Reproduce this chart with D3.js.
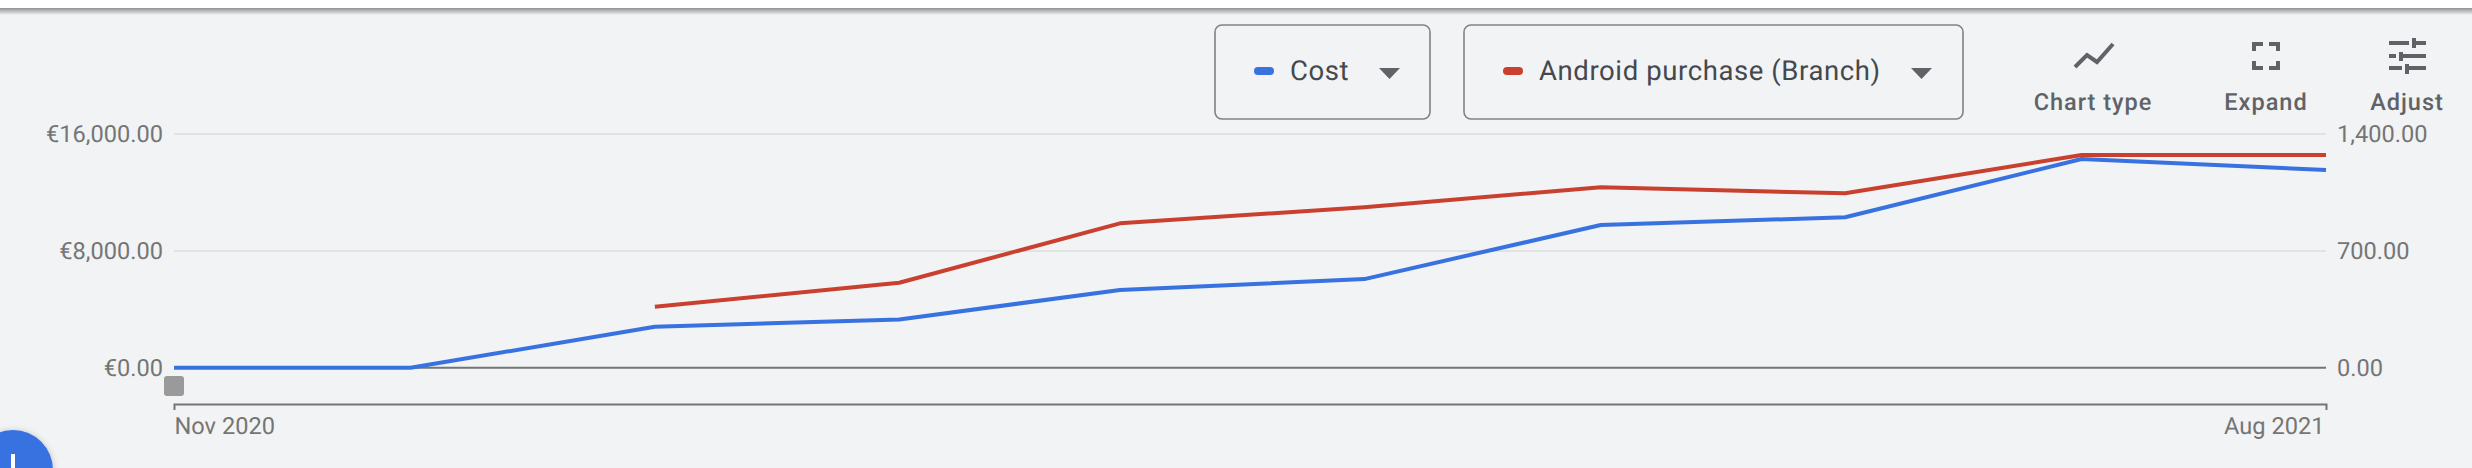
<!DOCTYPE html>
<html>
<head>
<meta charset="utf-8">
<script src="https://cdn.jsdelivr.net/npm/d3@7"></script>
<style>
html,body{margin:0;padding:0;background:#f1f3f4;overflow:hidden}
svg{display:block}
text{font-family:Roboto,sans-serif;text-rendering:geometricPrecision}
.tick line{display:none}
</style>
</head>
<body>
<svg id="chart" width="2472" height="468"></svg>
<script>
const months = ["2020-11-01","2020-12-01","2021-01-01","2021-02-01","2021-03-01","2021-04-01","2021-05-01","2021-06-01","2021-07-01","2021-08-01"];
const costValues = [0,0,2810,3310,5320,6070,9770,10300,14290,13540];
const purchaseValues = [null,null,365,509,865,961,1081,1045,1274,1274];
const leftTicks = [0,8000,16000];
const rightTicks = [0,700,1400];
const leftTickLabels = ["€0.00","€8,000.00","€16,000.00"];
const rightTickLabels = ["0.00","700.00","1,400.00"];
const xTickLabels = ["Nov 2020","Aug 2021"];
const legendLabels = ["Cost","Android purchase (Branch)"];
const toolLabels = ["Chart type","Expand","Adjust"];

const BLUE="#3871e0", RED="#c9402f", GREY="#757575", GRID="#e0e2e3", DARK="#5f6368";
const svg=d3.select("#chart");
const defs=svg.append("defs");
const grad=defs.append("linearGradient").attr("id","topShadow").attr("x1",0).attr("x2",0).attr("y1",0).attr("y2",1);
grad.append("stop").attr("offset",0).attr("stop-color","#8f9193");
grad.append("stop").attr("offset",1).attr("stop-color","#f1f3f4");
const blur=defs.append("filter").attr("id","fabShadow").attr("x","-30%").attr("y","-30%").attr("width","160%").attr("height","160%");
blur.append("feDropShadow").attr("dx",0).attr("dy",1).attr("stdDeviation",3).attr("flood-color","#000").attr("flood-opacity",0.25);

// page chrome
svg.append("rect").attr("width",2472).attr("height",468).attr("fill","#f1f3f4");
svg.append("rect").attr("width",2472).attr("height",8).attr("fill","#ffffff");
svg.append("rect").attr("y",8).attr("width",2472).attr("height",7).attr("fill","url(#topShadow)");

const parse=d3.utcParse("%Y-%m-%d");
const dates=months.map(parse);
const x=d3.scaleUtc().domain([dates[0],dates[dates.length-1]]).range([174,2326]);
const yL=d3.scaleLinear().domain([0,16000]).range([367.8,134]);
const yR=d3.scaleLinear().domain([0,1400]).range([367.8,134]);

// gridlines
svg.append("g").selectAll("line").data(leftTicks).join("line")
  .attr("x1",x.range()[0]).attr("x2",x.range()[1])
  .attr("y1",d=>yL(d)).attr("y2",d=>yL(d))
  .attr("stroke",d=>d===0?GREY:GRID).attr("stroke-width",2);

// axes
const axisFont=g=>g.selectAll("text").attr("fill",GREY).attr("font-size",23.6).attr("font-family","Roboto,sans-serif");
const left=svg.append("g").attr("transform","translate(174,0)")
  .call(d3.axisLeft(yL).tickValues(leftTicks).tickSize(0).tickPadding(11).tickFormat((d,i)=>leftTickLabels[i]));
left.select(".domain").remove(); left.call(axisFont);
const right=svg.append("g").attr("transform","translate(2326,0)")
  .call(d3.axisRight(yR).tickValues(rightTicks).tickSize(0).tickPadding(11).tickFormat((d,i)=>rightTickLabels[i]));
right.select(".domain").remove(); right.call(axisFont);
const bottom=svg.append("g").attr("transform","translate(0,404)")
  .call(d3.axisBottom(x).tickValues([dates[0],dates[dates.length-1]]).tickSize(0).tickSizeOuter(6).tickPadding(13)
    .tickFormat((d,i)=>xTickLabels[i]));
bottom.select(".domain").attr("stroke",GREY).attr("stroke-width",2);
bottom.call(axisFont);
bottom.selectAll("text").attr("text-anchor",(d,i)=>i===0?"start":"end").attr("dx",(d,i)=>i===0?0:-2);

// series
const rows=dates.map((d,i)=>({d,cost:costValues[i],purchase:purchaseValues[i]}));
svg.append("path").datum(rows)
  .attr("fill","none").attr("stroke",BLUE).attr("stroke-width",4).attr("stroke-linejoin","round")
  .attr("d",d3.line().x(r=>x(r.d)).y(r=>yL(r.cost)));
svg.append("path").datum(rows)
  .attr("fill","none").attr("stroke",RED).attr("stroke-width",4).attr("stroke-linejoin","round")
  .attr("d",d3.line().defined(r=>r.purchase!==null).x(r=>x(r.d)).y(r=>yR(r.purchase)));

// slider handle
svg.append("rect").attr("x",164).attr("y",376).attr("width",20).attr("height",20).attr("rx",3).attr("fill","#9a9a9a");

// metric selectors
const pickers=[{x:1215,w:215,c:BLUE,tx:1290,dot:1254,tri:1379},{x:1464,w:499,c:RED,tx:1539,dot:1503,tri:1911}];
pickers.forEach((p,i)=>{
  const g=svg.append("g");
  g.append("rect").attr("x",p.x).attr("y",25).attr("width",p.w).attr("height",94).attr("rx",7)
    .attr("fill","none").attr("stroke","#7f8386").attr("stroke-width",1.6);
  g.append("rect").attr("x",p.dot).attr("y",67).attr("width",20).attr("height",8).attr("rx",4).attr("fill",p.c);
  g.append("text").attr("x",p.tx).attr("y",80).attr("font-size",27.5).attr("letter-spacing",0.6).attr("fill","#45484c").text(legendLabels[i]);
  g.append("path").attr("d",`M${p.tri} 68h21l-10.5 11z`).attr("fill",DARK);
});

// toolbar labels
[[2093,toolLabels[0]],[2266,toolLabels[1]],[2407,toolLabels[2]]].forEach(([cx,t])=>{
  svg.append("text").attr("x",cx).attr("y",110).attr("text-anchor","middle")
    .attr("font-size",23.5).attr("font-weight",500).attr("letter-spacing",1).attr("fill",DARK).text(t);
});
// toolbar icons
const ic=svg.append("g").attr("fill","none").attr("stroke",DARK).attr("stroke-width",4);
ic.append("path").attr("d","M2075 67L2087 55L2097 62L2113 44");
ic.append("path").attr("d","M2254 51V44H2263M2269 44H2278V51M2278 61V68H2269M2263 68H2254V61");
ic.append("path").attr("d","M2389 43H2409M2414 38V48M2414 43H2426M2389 56H2396M2401 52V61M2401 56H2426M2389 68H2402M2407 64V74M2407 68H2426");

// floating action button
svg.append("circle").attr("cx",13).attr("cy",470).attr("r",40).attr("fill",BLUE).attr("filter","url(#fabShadow)");
svg.append("rect").attr("x",11).attr("y",454).attr("width",4).attr("height",14).attr("fill","#fff");
</script>
</body>
</html>
